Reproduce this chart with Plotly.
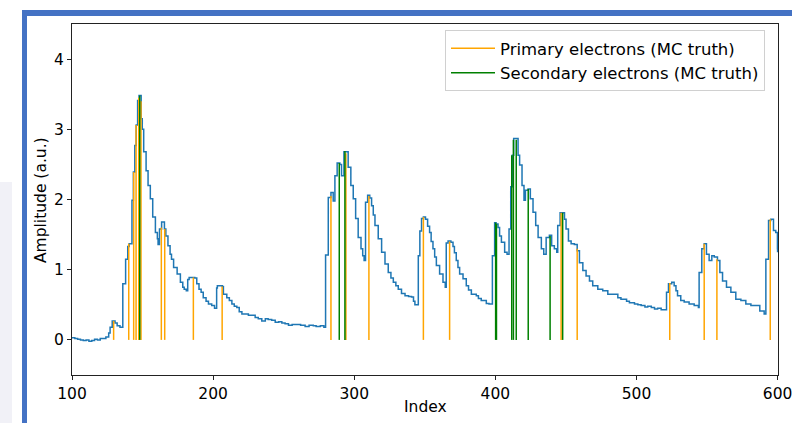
import plotly.graph_objects as go

# ---------------- data ----------------
wave_idx = [100, 102, 104, 106, 108, 110, 112, 114, 116, 118, 120, 122, 124, 126, 127, 128.5, 130.5, 132, 134,
            136, 138, 139.5, 140.5, 142.5, 143.5, 144.5, 145.5, 146.5, 147.5, 149, 149.8, 150.8, 152.5, 153.9,
            155.5, 157.2, 159.1, 160.5, 161, 162, 163.5, 165.5, 166.5, 168, 169.5, 170.5, 172, 174.5, 176.8,
            178.5, 179.5, 181, 182, 183, 187, 188.4, 190, 191.5, 193, 195, 196.7, 199, 201, 202.5, 203, 206.5,
            207.3, 209.7, 211.5, 213.3, 215, 216.8, 218.5, 220.4, 225, 229.8, 232, 234.5, 237, 239, 241.5, 244,
            246.5, 248.7, 251, 253.4, 256, 259.4, 262, 265.2, 268, 271, 273, 276, 278.5, 279.7, 281.6, 283.5,
            285.1, 286.3, 287.9, 289.8, 291, 292.7, 294.5, 295.7, 297.6, 299.3, 301, 302.8, 304.8, 306, 307,
            308, 309.5, 311, 312.3, 313.5, 314.7, 317, 319.4, 321.8, 324.1, 326, 327.7, 329.5, 331.2, 333.5,
            336, 338.5, 340.6, 342, 343, 345.4, 346.5, 347.7, 349, 350.5, 352, 353.4, 354.5, 355.8, 357, 358.2,
            360.5, 362.9, 364.5, 365.2, 366.5, 368.5, 370, 371, 372.3, 373.5, 374.7, 377.1, 379.4, 381, 383,
            386.5, 388, 390, 393.6, 395.5, 397.9, 399.5, 400.5, 401.9, 403, 404.3, 406.6, 408.3, 409.7, 410.9,
            412, 413, 415, 416.1, 417.2, 418.9, 420.3, 421.3, 423.2, 424.8, 426.7, 428.6, 430.3, 432.6, 434.3,
            436, 438.3, 439.9, 441.8, 443.5, 444.2, 445.9, 447.7, 449, 450.1, 451.8, 453.7, 456, 458, 459.6,
            462, 464.3, 466.7, 469, 472.6, 476.1, 479.7, 483.2, 486.8, 489, 491.5, 493, 495, 498.6, 501, 503.3,
            506, 508, 510.5, 512.8, 515, 517.5, 521.3, 522.7, 525, 526.7, 528, 529.1, 531.4, 533.8, 537.3,
            540.9, 543.9, 544.4, 546.3, 548, 549.6, 551.5, 553.4, 555.1, 557.4, 559.1, 561, 563.8, 566.9,
            570.4, 574, 577.5, 581.1, 584.6, 587.4, 590.5, 591.7, 593.6, 595.2, 597.1, 598.7, 599.9, 600]
wave_amp = [0.03, 0.02, 0.01, 0.00, -0.01, 0.00, -0.02, -0.01, 0.01, 0.00, 0.02, 0.02, 0.04, 0.10, 0.18, 0.27,
            0.24, 0.20, 0.18, 0.80, 1.15, 1.33, 1.37, 1.99, 2.39, 2.77, 3.06, 3.41, 3.48, 3.15, 3.00, 2.68, 2.41,
            2.20, 2.01, 1.75, 1.53, 1.44, 1.36, 1.58, 1.68, 1.58, 1.48, 1.34, 1.22, 1.15, 1.03, 0.94, 0.82, 0.75,
            0.72, 0.70, 0.86, 0.89, 0.88, 0.80, 0.72, 0.68, 0.60, 0.55, 0.51, 0.49, 0.45, 0.74, 0.77, 0.76, 0.65,
            0.60, 0.56, 0.51, 0.48, 0.46, 0.40, 0.37, 0.35, 0.32, 0.30, 0.27, 0.30, 0.29, 0.28, 0.25, 0.26, 0.24,
            0.23, 0.21, 0.22, 0.22, 0.21, 0.19, 0.21, 0.20, 0.19, 0.20, 0.18, 1.21, 2.03, 2.10, 1.98, 2.34, 2.52,
            2.50, 2.34, 2.68, 2.68, 2.46, 2.20, 2.01, 1.73, 1.46, 1.30, 1.20, 1.13, 1.96, 2.06, 2.02, 1.91, 1.78,
            1.63, 1.44, 1.25, 1.08, 0.96, 0.88, 0.82, 0.77, 0.72, 0.66, 0.63, 0.62, 0.61, 0.55, 0.50, 1.20, 1.55,
            1.73, 1.75, 1.72, 1.62, 1.53, 1.40, 1.30, 1.18, 1.06, 0.94, 0.82, 0.75, 1.38, 1.41, 1.39, 1.33, 1.24,
            1.13, 1.03, 0.94, 0.87, 0.77, 0.71, 0.65, 0.63, 0.59, 0.56, 0.52, 0.51, 1.20, 1.67, 1.65, 1.60, 1.48,
            1.39, 1.25, 1.22, 1.58, 2.18, 2.63, 2.87, 2.87, 2.63, 2.49, 2.20, 1.99, 2.13, 2.15, 2.01, 1.82, 1.63,
            1.46, 1.30, 1.22, 1.46, 1.49, 1.34, 1.30, 1.25, 1.63, 1.81, 1.81, 1.72, 1.58, 1.41, 1.37, 1.36, 1.27,
            1.10, 0.99, 0.91, 0.84, 0.77, 0.72, 0.70, 0.65, 0.65, 0.60, 0.58, 0.58, 0.55, 0.53, 0.51, 0.50, 0.49,
            0.47, 0.48, 0.46, 0.44, 0.45, 0.43, 0.68, 0.80, 0.82, 0.77, 0.70, 0.63, 0.56, 0.54, 0.51, 0.49, 0.46,
            0.96, 1.30, 1.37, 1.22, 1.13, 1.20, 1.18, 1.13, 0.96, 0.84, 0.75, 0.68, 0.58, 0.56, 0.51, 0.49, 0.49,
            0.41, 0.37, 1.15, 1.70, 1.72, 1.56, 1.53, 1.30, 1.25]

primary_idx = [129.5, 140.2, 143.7, 145.4, 147.3, 148.9, 163.3, 165.7, 186, 206.4, 283.5, 294.1, 310.4,
               349, 367.6, 446.6, 458, 523.6, 548, 557, 594.8]
primary_amp = [0.27, 1.37, 2.39, 3.06, 3.45, 3.40, 1.60, 1.58, 0.89, 0.76, 2.05, 2.66, 2.05,
               1.75, 1.40, 1.81, 1.30, 0.81, 1.37, 1.15, 1.72]

secondary_idx = [148.0, 289.4, 293.4, 400.2, 400.8, 411.6, 412.8, 414.8, 423.3, 438.8, 447.7]
secondary_amp = [3.48, 2.52, 2.69, 1.67, 1.65, 2.63, 2.85, 2.85, 2.15, 1.48, 1.81]

x_ticks = [100, 200, 300, 400, 500, 600]
y_ticks = [0, 1, 2, 3, 4]

FONT = "DejaVu Sans"


def segments(xs, hs):
    sx, sy = [], []
    for x, h in zip(xs, hs):
        sx += [x, x, None]
        sy += [0, h, None]
    return sx, sy


fig = go.Figure()
fig.add_trace(go.Scatter(x=wave_idx, y=wave_amp, mode="lines", line=dict(color="#1f77b4", width=1.5, shape="hv"),
                         showlegend=False, hoverinfo="skip"))
px_, py_ = segments(primary_idx, primary_amp)
fig.add_trace(go.Scatter(x=px_, y=py_, mode="lines", line=dict(color="#FFA500", width=1.5),
                         name="Primary electrons (MC truth)"))
sx_, sy_ = segments(secondary_idx, secondary_amp)
fig.add_trace(go.Scatter(x=sx_, y=sy_, mode="lines", line=dict(color="#008000", width=1.5),
                         name="Secondary electrons (MC truth)"))

W, H = 792, 423
L, R, T, B = 72, 778, 24, 375
pw, ph = R - L, B - T


def px2paper_x(p):
    return (p - L) / pw


def px2paper_y(p):
    return (B - p) / ph


shapes = [
    # faint background patch at the far left
    dict(type="rect", xref="paper", yref="paper", x0=px2paper_x(0), x1=px2paper_x(12),
         y0=px2paper_y(423), y1=px2paper_y(182), fillcolor="#f1f1f7", line=dict(width=0), layer="above"),
    # blue frame: left bar and top bar
    dict(type="rect", xref="paper", yref="paper", x0=px2paper_x(22), x1=px2paper_x(27),
         y0=px2paper_y(423), y1=px2paper_y(10), fillcolor="#4472C4", line=dict(width=0), layer="above"),
    dict(type="rect", xref="paper", yref="paper", x0=px2paper_x(22), x1=px2paper_x(792),
         y0=px2paper_y(16), y1=px2paper_y(10), fillcolor="#4472C4", line=dict(width=0), layer="above"),
]

annotations = [
    dict(text="Index", xref="paper", yref="paper", x=0.5, y=px2paper_y(407), xanchor="center", yanchor="middle",
         showarrow=False, font=dict(family=FONT, size=15.5, color="black")),
    dict(text="Amplitude (a.u.)", xref="paper", yref="paper", x=px2paper_x(41), y=px2paper_y(200),
         xanchor="center", yanchor="middle", textangle=-90, showarrow=False,
         font=dict(family=FONT, size=15.5, color="black")),
]

fig.update_layout(
    width=W, height=H,
    margin=dict(l=L, r=W - R, t=T, b=H - B, pad=0, autoexpand=False),
    paper_bgcolor="white", plot_bgcolor="white",
    font=dict(family=FONT, size=15.5, color="black"),
    shapes=shapes,
    annotations=annotations,
    legend=dict(x=px2paper_x(445), y=px2paper_y(30), xanchor="left", yanchor="top",
                bgcolor="rgba(255,255,255,0.85)", bordercolor="#d0d0d0", borderwidth=1,
                itemwidth=44, tracegroupgap=0,
                font=dict(family=FONT, size=16.5, color="black")),
    xaxis=dict(range=[100, 600.3], tickvals=x_ticks, ticks="outside", ticklen=4, tickwidth=1, tickcolor="#222",
               showline=True, linecolor="#222", linewidth=1, mirror=True, showgrid=False, zeroline=False,
               ticklabeloverflow="allow", automargin=False,
               tickfont=dict(size=15.5)),
    yaxis=dict(range=[-0.5, 4.5], tickvals=y_ticks, ticks="outside", ticklen=4, tickwidth=1, tickcolor="#222",
               showline=True, linecolor="#222", linewidth=1, mirror=True, showgrid=False, zeroline=False,
               automargin=False,
               tickfont=dict(size=15.5)),
)

fig.write_html("out.html")
